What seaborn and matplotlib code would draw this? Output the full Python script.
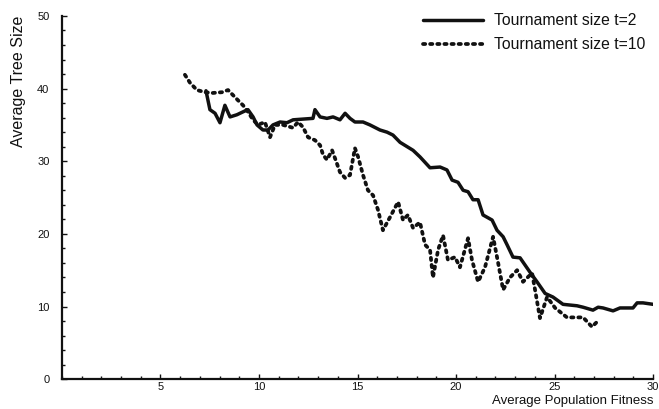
import matplotlib
matplotlib.use("Agg")
import matplotlib.pyplot as plt
from matplotlib.ticker import MultipleLocator
import pandas as pd
import seaborn as sns

# Tournament size t=2
fitness_t2 = [7.31, 7.51, 7.77, 8.02, 8.27, 8.53, 8.88, 9.19, 9.44, 9.70, 9.90, 10.20,
              10.46, 10.71, 11.07, 11.42, 11.73, 12.23, 12.74, 12.84, 13.10, 13.45, 13.76,
              14.11, 14.37, 14.62, 14.87, 15.28, 15.63, 16.14, 16.50, 16.80, 17.16, 17.82,
              18.17, 18.68, 19.19, 19.54, 19.80, 20.10, 20.36, 20.61, 20.86, 21.12, 21.37,
              21.83, 22.08, 22.39, 22.59, 22.89, 23.25, 23.76, 24.11, 24.52, 24.92, 25.43,
              26.14, 26.45, 26.95, 27.21, 27.46, 27.97, 28.32, 28.68, 28.98, 29.19, 29.49,
              30.0]
size_t2 = [39.7, 37.1, 36.6, 35.3, 37.7, 36.1, 36.4, 36.8, 37.1, 36.1, 35.0, 34.3,
           34.3, 35.0, 35.4, 35.3, 35.7, 35.8, 35.9, 37.1, 36.1, 35.9, 36.1,
           35.7, 36.6, 35.9, 35.4, 35.4, 35.0, 34.3, 34.0, 33.6, 32.6, 31.5,
           30.6, 29.1, 29.2, 28.8, 27.4, 27.1, 26.0, 25.8, 24.7, 24.7, 22.6,
           21.9, 20.5, 19.6, 18.5, 16.8, 16.7, 14.7, 13.4, 11.8, 11.3, 10.3,
           10.1, 9.9, 9.5, 9.9, 9.8, 9.4, 9.8, 9.8, 9.8, 10.5, 10.5,
           10.3]

# Tournament size t=10
fitness_t10 = [6.24, 6.50, 6.85, 7.26, 7.66, 8.12, 8.43, 8.68, 8.93, 9.19, 9.44, 9.70,
               9.95, 10.30, 10.56, 10.81, 11.22, 11.73, 11.98, 12.23, 12.49, 12.84, 13.10,
               13.25, 13.45, 13.71, 13.86, 14.11, 14.37, 14.62, 14.87, 15.03, 15.28, 15.53,
               15.79, 16.04, 16.29, 16.65, 17.06, 17.31, 17.56, 17.82, 18.17, 18.43, 18.68,
               18.83, 19.09, 19.34, 19.59, 19.95, 20.20, 20.61, 20.81, 21.12, 21.47, 21.88,
               22.13, 22.39, 22.74, 23.10, 23.40, 23.86, 24.01, 24.26, 24.62, 25.03, 25.63,
               26.14, 26.45, 26.90, 27.16]
size_t10 = [41.9, 40.8, 39.8, 39.5, 39.4, 39.5, 39.8, 39.1, 38.4, 37.7, 36.8, 35.7,
            35.0, 35.4, 33.3, 35.0, 35.0, 34.6, 35.4, 34.7, 33.3, 32.9, 32.2,
            30.9, 30.2, 31.5, 30.4, 28.5, 27.7, 28.1, 31.8, 30.6, 28.1, 26.0,
            25.3, 23.3, 20.5, 22.3, 24.4, 21.9, 22.6, 20.8, 21.6, 18.5, 17.8,
            14.0, 17.8, 19.8, 16.4, 16.8, 15.4, 19.4, 16.4, 13.4, 15.4, 19.6,
            16.1, 12.3, 14.0, 15.0, 13.4, 14.6, 12.3, 8.4, 11.3, 9.8, 8.5,
            8.5, 8.5, 7.2, 7.9]

labels = ["Tournament size t=2", "Tournament size t=10"]

df2 = pd.DataFrame({"fitness": fitness_t2, "size": size_t2})
df10 = pd.DataFrame({"fitness": fitness_t10, "size": size_t10})

sns.set_theme(style="ticks")
plt.rcParams["font.family"] = ["Liberation Sans", "DejaVu Sans"]

ink = "#111111"
fig = plt.figure(figsize=(6.59, 4.09), dpi=100)
ax = fig.add_axes([0.094, 0.073, 0.897, 0.888])

sns.lineplot(data=df2, x="fitness", y="size", ax=ax, color=ink, lw=2.5,
             sort=False, estimator=None, label=labels[0])
sns.lineplot(data=df10, x="fitness", y="size", ax=ax, color=ink, lw=2.7,
             sort=False, estimator=None, label=labels[1],
             linestyle=(0, (0.6, 1.3)), dash_capstyle="round")

ax.set_xlim(0, 30)
ax.set_ylim(0, 50)
ax.xaxis.set_major_locator(MultipleLocator(5))
ax.xaxis.set_minor_locator(MultipleLocator(1))
ax.yaxis.set_major_locator(MultipleLocator(10))
ax.yaxis.set_minor_locator(MultipleLocator(2))
ax.set_xticks([5, 10, 15, 20, 25, 30])
ax.tick_params(which="both", direction="in", color=ink, width=1.0)
ax.tick_params(which="major", length=3.5, labelsize=8, labelcolor=ink)
ax.tick_params(which="minor", length=2)
ax.tick_params(axis="y", pad=9)
ax.tick_params(axis="x", pad=2)

for side in ("top", "right"):
    ax.spines[side].set_visible(False)
for side in ("left", "bottom"):
    ax.spines[side].set_color(ink)
    ax.spines[side].set_linewidth(1.6)

ax.set_xlabel("Average Population Fitness", fontsize=9.5, color=ink)
ax.set_ylabel("Average Tree Size", fontsize=11.5, color=ink)
ax.xaxis.set_label_coords(1.0, -0.045)
ax.xaxis.label.set_horizontalalignment("right")
ax.yaxis.set_label_coords(-0.086, 1.0)
ax.yaxis.label.set_verticalalignment("top")
ax.yaxis.label.set_horizontalalignment("right")

leg = ax.legend(loc="upper left", bbox_to_anchor=(423 / 659, 1 - 13 / 409),
                bbox_transform=fig.transFigure, frameon=False, borderpad=0,
                borderaxespad=0, fontsize=11.3, handlelength=3.8,
                handletextpad=0.72, labelspacing=0.6)
for t in leg.get_texts():
    t.set_color(ink)

fig.savefig("out.png", dpi=100, facecolor="white")
